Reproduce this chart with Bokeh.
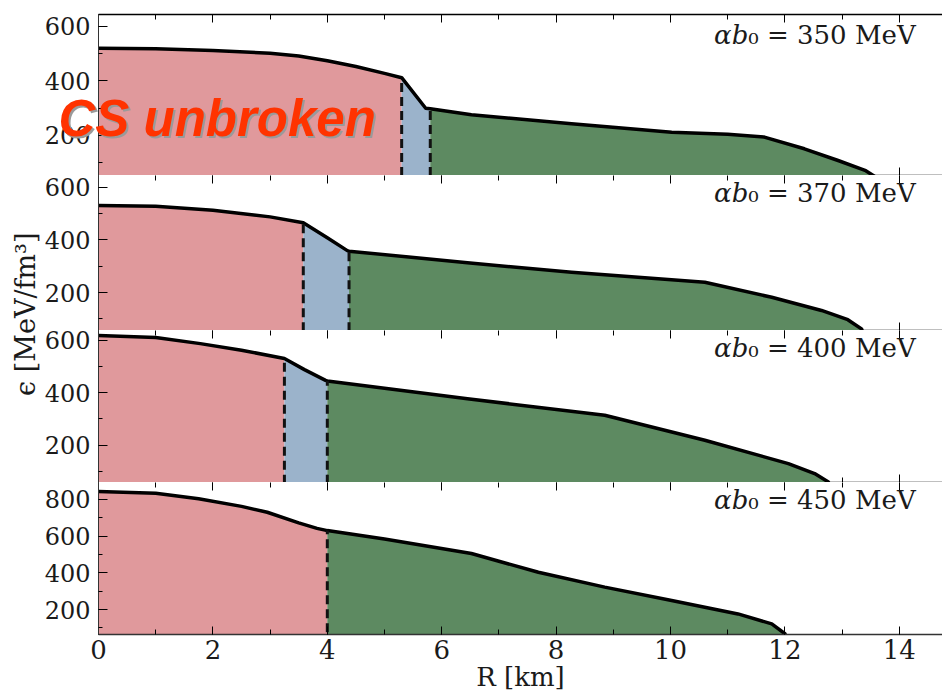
import numpy as np
from bokeh.plotting import figure
from bokeh.models import Range1d, LinearAxis, SingleIntervalTicker, Label, GridBox
from bokeh.embed import file_html
from bokeh.resources import INLINE

# ---------------- data ----------------
coupling = ["350", "370", "400", "450"]

r_350 = [0.0, 1.0, 2.0, 3.0, 3.5, 4.0, 4.5, 5.0, 5.30, 5.72, 5.80, 6.52, 8.27, 10.02, 11.0, 11.64, 12.34, 12.93, 13.40, 13.68, 13.78]
eps_350 = [520, 518, 512, 502, 492, 474, 453, 428, 412, 300, 298, 276, 243, 212, 204, 194, 151, 108, 72, 35, 0]

r_370 = [0.0, 1.0, 2.0, 3.0, 3.58, 4.00, 4.35, 4.38, 6.45, 8.27, 10.60, 11.77, 12.64, 13.10, 13.34, 13.44]
eps_370 = [530, 527, 512, 487, 465, 408, 359, 357, 313, 277, 239, 182, 132, 97, 62, 0]

r_400 = [0.0, 1.0, 1.78, 2.5, 3.25, 3.60, 3.97, 4.00, 6.45, 8.85, 10.60, 12.06, 12.52, 12.76, 12.86]
eps_400 = [618, 610, 587, 562, 530, 488, 447, 445, 377, 314, 219, 130, 92, 60, 0]

r_450 = [0.0, 1.0, 1.75, 2.5, 2.95, 3.5, 3.82, 4.00, 5.0, 6.52, 7.69, 8.85, 10.02, 11.18, 11.77, 12.00, 12.10]
eps_450 = [843, 833, 803, 762, 730, 672, 642, 630, 584, 505, 403, 322, 249, 176, 122, 68, 0]

r_inner = [5.30, 3.58, 3.25, 4.00]   # end of the CS-unbroken core
r_outer = [5.80, 4.38, 4.00, 4.00]   # start of the outer phase

# ---------------- styling ----------------
profiles = [(r_350, eps_350), (r_370, eps_370), (r_400, eps_400), (r_450, eps_450)]
y_lo = [53, 56, 58, 64]
y_hi = [644, 644, 637, 892]
frame_h = [161, 155, 152, 152]
FRAME_W = 844
X_END = 14.755
RED = "#E0999C"
BLUE = "#9BB3CB"
GREEN = "#5D8A61"
SERIF = "DejaVu Serif"
TXT = "#1a1a1a"

x_range = Range1d(0, X_END)
panels = []
for i, (rr, ee) in enumerate(profiles):
    rr = np.asarray(rr, dtype=float)
    ee = np.asarray(ee, dtype=float)
    last = i == 3
    p = figure(frame_width=FRAME_W, frame_height=frame_h[i],
               x_range=x_range, y_range=Range1d(y_lo[i], y_hi[i]),
               output_backend="svg", toolbar_location=None,
               x_axis_location=None, y_axis_location="left",
               min_border_left=58, min_border_right=0,
               min_border_top=14 if i == 0 else 0,
               min_border_bottom=61 if last else 0,
               background_fill_color="white", border_fill_color=None,
               outline_line_color=None)
    p.grid.visible = False

    # left axis
    ya = p.yaxis[0]
    ya.ticker = SingleIntervalTicker(interval=200, num_minor_ticks=2)
    ya.major_label_text_font = SERIF
    ya.major_label_text_font_size = "24px"
    ya.major_label_text_color = TXT
    ya.major_tick_in = 9
    ya.major_tick_out = 0
    ya.minor_tick_in = 4
    ya.minor_tick_out = 0
    ya.major_label_standoff = 8
    ya.axis_line_color = "#333333"
    ya.axis_line_width = 1

    # top axis (ticks only)
    ta = LinearAxis(ticker=SingleIntervalTicker(interval=2, num_minor_ticks=2),
                    major_label_text_font_size="0px", major_label_standoff=0,
                    major_tick_in=8, major_tick_out=0, minor_tick_in=5, minor_tick_out=0,
                    axis_line_color="black" if i == 0 else None, axis_line_width=1.5)
    p.add_layout(ta, "above")

    # bottom axis
    if last:
        ba = LinearAxis(ticker=SingleIntervalTicker(interval=2, num_minor_ticks=2),
                        major_tick_in=8, major_tick_out=0, minor_tick_in=5, minor_tick_out=0,
                        major_label_text_font=SERIF, major_label_text_font_size="26px",
                        major_label_text_color=TXT, major_label_standoff=5,
                        axis_label="R [km]", axis_label_text_font=SERIF,
                        axis_label_text_font_size="26px", axis_label_text_font_style="normal",
                        axis_label_text_color=TXT, axis_label_standoff=0,
                        axis_line_color="#333333", axis_line_width=1.5)
    else:
        ba = LinearAxis(ticker=SingleIntervalTicker(interval=2, num_minor_ticks=2),
                        major_label_text_font_size="0px", major_label_standoff=0,
                        major_tick_in=8, major_tick_out=0, minor_tick_in=5, minor_tick_out=0,
                        axis_line_color="black", axis_line_width=1.5, level="underlay")
    p.add_layout(ba, "below")

    # filled regions
    a, b = r_inner[i], r_outer[i]
    m_red = rr <= a + 1e-9
    m_blue = (rr >= a - 1e-9) & (rr <= b + 1e-9)
    m_green = rr >= b - 1e-9
    p.varea(x=rr[m_red], y1=0, y2=ee[m_red], fill_color=RED)
    if b > a:
        p.varea(x=rr[m_blue], y1=0, y2=ee[m_blue], fill_color=BLUE)
    p.varea(x=rr[m_green], y1=0, y2=ee[m_green], fill_color=GREEN)
    p.line(rr, ee, line_color="black", line_width=3.5, line_join="round")

    # phase boundaries
    bx = sorted(set([a, b]))
    by = [float(np.interp(x, rr, ee)) for x in bx]
    p.segment(x0=bx, y0=[0] * len(bx), x1=bx, y1=by,
              line_color="#111111", line_width=3, line_dash="9 5")

    # panel label
    scale = frame_h[i] / (y_hi[i] - y_lo[i])
    base = y_hi[i] - (20 if i == 0 else 17) / scale
    lx = 11.36
    p.add_layout(Label(x=lx, y=base, text="αb", text_align="right",
                       text_baseline="alphabetic", text_font=SERIF,
                       text_font_size="26px", text_font_style="italic",
                       text_color=TXT))
    p.add_layout(Label(x=lx, y=base, text="₀ = " + coupling[i] + " MeV",
                       text_align="left", text_baseline="alphabetic",
                       text_font=SERIF, text_font_size="26px",
                       text_color=TXT))
    panels.append(p)

# shared y-axis title in its own narrow strip
ylab = figure(width=40, height=695, x_range=Range1d(0, 1), y_range=Range1d(0, 1),
              output_backend="svg", toolbar_location=None,
              x_axis_location=None, y_axis_location=None,
              min_border=0, outline_line_color=None, border_fill_color=None,
              background_fill_color=None)
ylab.grid.visible = False
ylab.add_layout(Label(x=0.62, y=1 - 336 / 695, text="ϵ [MeV/fm³]", angle=np.pi / 2,
                      text_align="center", text_baseline="middle",
                      text_font=SERIF, text_font_size="27px", text_color=TXT))

# transparent overlay carrying the "CS unbroken" annotation across the top row
over = figure(width=942, height=175, x_range=Range1d(0, 942), y_range=Range1d(0, 175),
              output_backend="svg", toolbar_location=None,
              x_axis_location=None, y_axis_location=None,
              min_border=0, outline_line_color=None, border_fill_color=None,
              background_fill_color=None)
over.grid.visible = False
for dx, dy, col in [(2, -2, "#9a9a9a"), (0, 0, "#FF3300")]:
    over.add_layout(Label(x=58, y=62, x_offset=dx, y_offset=dy, text="CS unbroken",
                          text_align="left", text_baseline="alphabetic",
                          text_font="Liberation Sans", text_font_size="51px",
                          text_font_style="bold italic", text_color=col))

layout = GridBox(children=[(ylab, 0, 0, 4, 1),
                           (panels[0], 0, 1), (panels[1], 1, 1),
                           (panels[2], 2, 1), (panels[3], 3, 1),
                           (over, 0, 0, 1, 2)], spacing=0)
open("out.html", "w").write(file_html(layout, INLINE))
